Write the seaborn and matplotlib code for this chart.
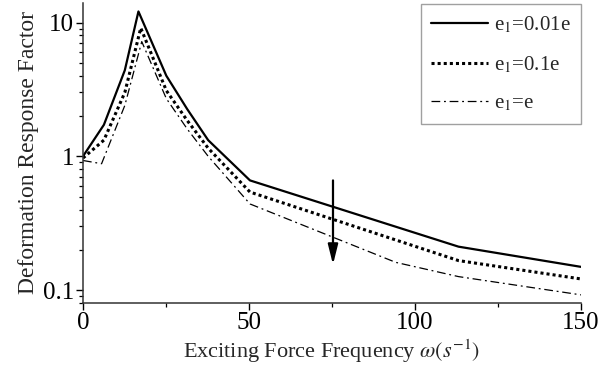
import numpy as np
import pandas as pd
import matplotlib
matplotlib.use("Agg")
import matplotlib.pyplot as plt
from matplotlib.ticker import LogLocator, FixedLocator, MultipleLocator, FuncFormatter, NullFormatter
import seaborn as sns

# Frequency response of the deformation for three values of e1
omega_a = [0, 6.3, 12.6, 16.7, 25.1, 31.4, 37.7, 50.3, 113.1, 150]
resp_a = [1.0, 1.72, 4.4, 12.1, 4.0, 2.25, 1.32, 0.66, 0.211, 0.149]

omega_b = [0, 6.3, 12.6, 17.4, 25.1, 31.4, 37.7, 50.3, 113.1, 150]
resp_b = [0.97, 1.32, 3.0, 9.1, 3.1, 1.85, 1.15, 0.54, 0.166, 0.121]

omega_c = [0, 5.6, 12.6, 17.7, 25.1, 31.4, 37.7, 50.3, 94.2, 113.1, 150]
resp_c = [0.93, 0.88, 2.4, 7.2, 2.7, 1.6, 1.0, 0.44, 0.161, 0.126, 0.092]

labels = ["e$_1$=0.01e", "e$_1$=0.1e", "e$_1$=e"]
x_ticks = [0, 50, 100, 150]
y_ticks = [0.1, 1, 10]

sns.set_style("ticks")
plt.rcParams["font.family"] = ["Liberation Serif", "DejaVu Serif"]
plt.rcParams["mathtext.fontset"] = "stix"

fig = plt.figure(figsize=(6.08, 3.73), dpi=100)
ax = fig.add_axes([0.1365, 0.1877, 0.8191, 0.8043])

series = [
    (omega_a, resp_a, labels[0], "-", 1.6),
    (omega_b, resp_b, labels[1], (0, (1, 1)), 2.2),
    (omega_c, resp_c, labels[2], (0, (7, 3, 1.5, 3)), 0.9),
]
for xs, ys, lab, ls, lw in series:
    df = pd.DataFrame({"omega": xs, "resp": ys})
    sns.lineplot(data=df, x="omega", y="resp", ax=ax, color="black",
                 linestyle=ls, linewidth=lw, label=lab)

ax.set_yscale("log")
ax.set_xlim(0, 150)
ax.set_ylim(0.08, 14)

ax.xaxis.set_major_locator(FixedLocator(x_ticks))
ax.xaxis.set_minor_locator(MultipleLocator(25))
ax.yaxis.set_major_locator(FixedLocator(y_ticks))
ax.yaxis.set_minor_locator(LogLocator(base=10, subs=np.arange(2, 10)))
ax.yaxis.set_major_formatter(FuncFormatter(lambda v, p: f"{v:g}"))
ax.yaxis.set_minor_formatter(NullFormatter())

ax.tick_params(which="major", direction="out", length=5, width=1.0,
               labelsize=18, colors="black", pad=1.5)
ax.tick_params(which="minor", direction="out", length=3, width=0.9, colors="black")

for side in ["top", "right"]:
    ax.spines[side].set_visible(False)
for side in ["left", "bottom"]:
    ax.spines[side].set_linewidth(1.1)
    ax.spines[side].set_color("#333333")

ax.set_xlabel(r"Exciting Force Frequency $\omega\left(s^{-1}\right)$", fontsize=16, labelpad=2.5)
ax.set_ylabel("Deformation Response Factor", fontsize=17, labelpad=3)

# downward arrow marking increasing e1
ax.annotate("", xy=(75.3, 0.155), xytext=(75.3, 0.66),
            arrowprops=dict(arrowstyle="-|>,head_length=1.2,head_width=0.3",
                            color="black", lw=1.6, shrinkA=0, shrinkB=0))

leg = ax.legend(loc="upper right", bbox_to_anchor=(1.0, 0.995), borderaxespad=0,
                fontsize=15, frameon=True, fancybox=False, handlelength=2.7,
                handletextpad=0.3, labelspacing=0.9, borderpad=0.5)
leg.get_frame().set_edgecolor("#888888")
leg.get_frame().set_linewidth(1.0)

fig.savefig("out.png", dpi=100)
